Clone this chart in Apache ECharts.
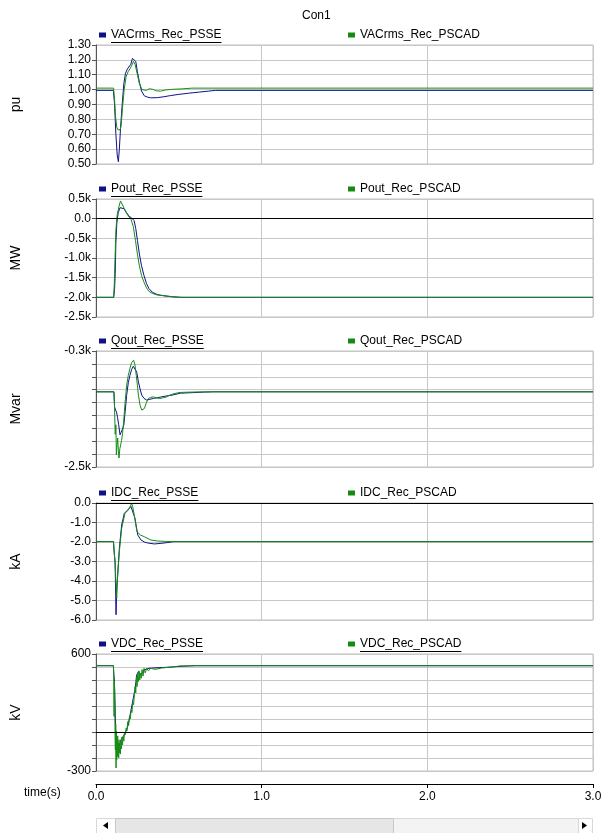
<!DOCTYPE html>
<html>
<head>
<meta charset="utf-8">
<title>Con1</title>
<script src="https://cdn.jsdelivr.net/npm/echarts@6/dist/echarts.min.js"></script>
<style>
  html, body { margin: 0; padding: 0; background: #fff; }
  #chart { width: 601px; height: 833px; }
</style>
</head>
<body>
<div id="chart"></div>
<script>
// time (s) and value pairs, one pair of arrays per trace
const vacPsseT = [0, 0.105, 0.112, 0.120, 0.128, 0.135, 0.141, 0.148, 0.158, 0.168, 0.178, 0.190, 0.200, 0.210, 0.220, 0.231, 0.240, 0.250, 0.262, 0.275, 0.292, 0.310, 0.330, 0.370, 0.410, 0.450, 0.500, 0.560, 0.620, 0.680, 0.720, 3.0]
const vacPsse = [0.995, 0.995, 0.90, 0.70, 0.56, 0.515, 0.60, 0.74, 0.90, 1.04, 1.11, 1.14, 1.15, 1.17, 1.21, 1.223, 1.19, 1.12, 1.05, 0.99, 0.958, 0.95, 0.945, 0.946, 0.952, 0.96, 0.968, 0.976, 0.983, 0.99, 0.995, 0.995]
const vacPscadT = [0, 0.106, 0.112, 0.118, 0.125, 0.132, 0.139, 0.146, 0.152, 0.160, 0.170, 0.182, 0.194, 0.205, 0.215, 0.226, 0.236, 0.248, 0.262, 0.278, 0.290, 0.305, 0.320, 0.340, 0.365, 0.390, 0.420, 0.460, 0.520, 0.580, 0.700, 3.0]
const vacPscad = [1.01, 1.01, 0.93, 0.82, 0.75, 0.73, 0.72, 0.73, 0.76, 0.88, 1.00, 1.09, 1.12, 1.14, 1.16, 1.19, 1.17, 1.11, 1.04, 1.00, 0.99, 0.995, 1.005, 1.003, 0.992, 0.99, 0.998, 1.002, 1.005, 1.01, 1.01, 1.01]

const poutPsseT = [0, 0.107, 0.112, 0.116, 0.120, 0.126, 0.134, 0.145, 0.155, 0.170, 0.185, 0.200, 0.215, 0.230, 0.240, 0.250, 0.262, 0.275, 0.290, 0.305, 0.320, 0.340, 0.370, 0.410, 0.460, 0.520, 3.0]
const poutPsse = [-2000, -2000, -1800, -1400, -600, -100, 150, 280, 320, 250, 150, 60, 20, -50, -250, -550, -900, -1200, -1450, -1650, -1780, -1870, -1930, -1960, -1985, -2000, -2000]
const poutPscadT = [0, 0.106, 0.110, 0.115, 0.120, 0.128, 0.138, 0.148, 0.158, 0.170, 0.185, 0.200, 0.212, 0.225, 0.238, 0.250, 0.262, 0.275, 0.290, 0.305, 0.320, 0.340, 0.370, 0.410, 0.460, 0.500, 3.0]
const poutPscad = [-2000, -2000, -1700, -1000, -300, 100, 300, 450, 400, 260, 130, 40, -20, -200, -550, -900, -1200, -1450, -1620, -1760, -1850, -1900, -1940, -1960, -1985, -2000, -2000]

const qoutPsseT = [0, 0.108, 0.112, 0.118, 0.124, 0.130, 0.137, 0.145, 0.152, 0.160, 0.168, 0.176, 0.185, 0.195, 0.205, 0.215, 0.225, 0.236, 0.246, 0.256, 0.266, 0.276, 0.290, 0.306, 0.326, 0.346, 0.370, 0.396, 0.430, 0.460, 0.510, 0.580, 0.650, 0.710, 3.0]
const qoutPsse = [-1074, -1074, -1360, -1420, -1460, -1560, -1700, -1890, -1840, -1780, -1700, -1450, -1140, -900, -760, -650, -590, -570, -700, -885, -1020, -1136, -1200, -1230, -1215, -1200, -1185, -1170, -1150, -1136, -1100, -1090, -1080, -1074, -1074]
const qoutPscadT = [0, 0.108, 0.111, 0.116, 0.120, 0.123, 0.127, 0.131, 0.135, 0.139, 0.144, 0.149, 0.154, 0.160, 0.167, 0.175, 0.185, 0.195, 0.205, 0.215, 0.227, 0.235, 0.243, 0.250, 0.256, 0.266, 0.276, 0.292, 0.304, 0.316, 0.330, 0.346, 0.366, 0.386, 0.407, 0.427, 0.450, 0.477, 0.507, 0.560, 0.620, 0.700, 3.0]
const qoutPscad = [-1074, -1074, -1260, -1880, -1700, -2270, -2080, -1950, -2200, -2330, -2150, -2080, -2000, -1870, -1640, -1300, -950, -760, -630, -520, -475, -560, -760, -950, -1136, -1330, -1420, -1390, -1280, -1200, -1180, -1170, -1190, -1200, -1185, -1170, -1130, -1105, -1086, -1080, -1076, -1074, -1074]

const idcPsseT = [0, 0.105, 0.110, 0.115, 0.118, 0.121, 0.125, 0.131, 0.141, 0.155, 0.171, 0.191, 0.211, 0.221, 0.235, 0.252, 0.272, 0.292, 0.312, 0.352, 0.392, 0.430, 0.470, 3.0]
const idcPsse = [-1.98, -1.98, -2.6, -3.0, -4.3, -5.73, -4.36, -3.68, -2.32, -1.12, -0.53, -0.36, -0.18, -0.1, -0.78, -1.64, -1.9, -2.0, -2.05, -2.1, -2.07, -2.03, -1.98, -1.98]
const idcPscadT = [0, 0.106, 0.110, 0.115, 0.120, 0.125, 0.131, 0.141, 0.155, 0.175, 0.195, 0.208, 0.215, 0.222, 0.231, 0.247, 0.268, 0.292, 0.332, 0.372, 0.420, 0.470, 3.0]
const idcPscad = [-1.98, -1.98, -2.5, -3.0, -4.0, -4.87, -3.68, -2.5, -1.3, -0.53, -0.36, -0.15, -0.02, -0.2, -0.62, -1.47, -1.64, -1.73, -1.9, -1.95, -1.97, -1.98, -1.98]

const vdcPsseT = [0, 0.105, 0.108, 0.111, 0.115, 0.120, 0.125, 0.131, 0.138, 0.145, 0.155, 0.165, 0.175, 0.185, 0.195, 0.211, 0.225, 0.236, 0.246, 0.256, 0.266, 0.272, 0.280, 0.290, 0.300, 0.320, 0.350, 0.400, 0.457, 0.507, 0.600, 3.0]
const vdcPsse = [510, 510, 440, 400, 200, -60, -120, -160, -110, -85, -50, -34, -20, 17, 60, 165, 260, 330, 440, 465, 440, 426, 455, 478, 485, 490, 493, 496, 500, 505, 510, 510]
const vdcPscadT = [0, 0.105, 0.107, 0.109, 0.111, 0.113, 0.115, 0.117, 0.119, 0.121, 0.123, 0.125, 0.127, 0.129, 0.131, 0.133, 0.135, 0.137, 0.139, 0.141, 0.144, 0.147, 0.150, 0.153, 0.156, 0.160, 0.164, 0.168, 0.172, 0.177, 0.182, 0.187, 0.192, 0.197, 0.202, 0.207, 0.212, 0.217, 0.222, 0.227, 0.232, 0.236, 0.240, 0.244, 0.248, 0.252, 0.256, 0.260, 0.264, 0.268, 0.273, 0.278, 0.284, 0.290, 0.297, 0.306, 0.316, 0.330, 0.356, 0.396, 0.457, 0.507, 0.600, 3.0]
const vdcPscad = [510, 510, 430, 120, 390, 300, -40, -137, 60, -277, 6, -213, -60, -188, -30, -160, -85, -200, -60, -160, -111, -170, -60, -130, -40, -100, -34, -70, 0, -20, 30, 10, 80, 50, 120, 100, 170, 150, 230, 210, 290, 349, 300, 426, 349, 452, 388, 470, 400, 452, 413, 480, 430, 490, 455, 490, 470, 490, 482, 492, 500, 508, 510, 510]

// y ticks of the Qout panel (9 equal steps) and the two labelled ends
const qoutTicks = [-2500, -2255.6, -2011.1, -1766.7, -1522.2, -1277.8, -1033.3, -788.9, -544.4, -300]
const qoutLabels = [-2500, -300]
const timeTicks = [0, 1, 2, 3]

const FONT = '"Liberation Sans", Arial, sans-serif'
const BLUE = '#10108c'
const GREEN = '#148c14'
const GRID_COLOR = '#c8c8c8'
const LEFT = 96
const WIDTH = 497

const zip = (t, v) => t.map((x, i) => [x, v[i]])
const kFmt = (v) => (v === 0 ? '0.0' : (v / 1000).toFixed(1) + 'k')

const panels = [
    { unit: 'pu', top: 45, height: 119, names: ['VACrms_Rec_PSSE', 'VACrms_Rec_PSCAD'],
      data: [zip(vacPsseT, vacPsse), zip(vacPscadT, vacPscad)],
      y: { min: 0.5, max: 1.3, interval: 0.1 }, fmt: (v) => v.toFixed(2), zero: false, underline: [true, false] },
    { unit: 'MW', top: 199, height: 118, names: ['Pout_Rec_PSSE', 'Pout_Rec_PSCAD'],
      data: [zip(poutPsseT, poutPsse), zip(poutPscadT, poutPscad)],
      y: { min: -2500, max: 500, interval: 500 }, fmt: kFmt, zero: true, underline: [true, false] },
    { unit: 'Mvar', top: 351, height: 116, names: ['Qout_Rec_PSSE', 'Qout_Rec_PSCAD'],
      data: [zip(qoutPsseT, qoutPsse), zip(qoutPscadT, qoutPscad)],
      y: { min: -2500, max: -300 }, custom: true, fmt: kFmt, zero: false, underline: [true, false] },
    { unit: 'kA', top: 503, height: 117, names: ['IDC_Rec_PSSE', 'IDC_Rec_PSCAD'],
      data: [zip(idcPsseT, idcPsse), zip(idcPscadT, idcPscad)],
      y: { min: -6, max: 0, interval: 1 }, fmt: (v) => v.toFixed(1), zero: true, underline: [true, false] },
    { unit: 'kV', top: 654, height: 117, names: ['VDC_Rec_PSSE', 'VDC_Rec_PSCAD'],
      data: [zip(vdcPsseT, vdcPsse), zip(vdcPscadT, vdcPscad)],
      y: { min: -300, max: 600, interval: 100 }, fmt: (v) => (v === 600 || v === -300 ? String(v) : ''),
      zero: true, underline: [true, true] },
]

const measure = document.createElement('canvas').getContext('2d')
measure.font = '12px ' + FONT

const grids = []
const xAxes = []
const yAxes = []
const series = []
const legends = []
const graphics = []
const last = panels.length - 1

panels.forEach((p, i) => {
    const isLast = i === last
    grids.push({
        left: LEFT, top: p.top, width: WIDTH, height: p.height,
        outerBoundsMode: 'none', containLabel: false,
        show: true, borderColor: '#c0c0c0', borderWidth: 1, backgroundColor: '#fff',
    })
    xAxes.push({
        gridIndex: i, type: 'value', min: 0, max: 3, interval: 1,
        offset: isLast ? 13 : 0,
        axisLine: { show: isLast, onZero: false, lineStyle: { color: '#000', width: 1 } },
        axisTick: { show: isLast, length: 4, lineStyle: { color: '#000' } },
        axisLabel: { show: isLast, color: '#000', fontSize: 12, fontFamily: FONT, margin: 7,
            formatter: (v) => v.toFixed(1), customValues: isLast ? timeTicks : undefined },
        splitLine: { show: true, lineStyle: { color: GRID_COLOR } },
    })
    const y = {
        gridIndex: i, type: 'value', min: p.y.min, max: p.y.max,
        name: p.unit, nameLocation: 'middle', nameGap: 73,
        nameTextStyle: { fontSize: 14, color: '#000', fontFamily: FONT },
        axisLine: { show: true, lineStyle: { color: '#555' } },
        axisTick: { show: true, length: 4, lineStyle: { color: '#555' } },
        axisLabel: { color: '#000', fontSize: 12, fontFamily: FONT, margin: 5, formatter: p.fmt },
        splitLine: { show: true, lineStyle: { color: GRID_COLOR } },
    }
    if (p.custom) {
        y.axisTick.customValues = qoutTicks
        y.axisLabel.customValues = qoutLabels
    } else {
        y.interval = p.y.interval
    }
    yAxes.push(y)

    p.names.forEach((name, k) => {
        const s = {
            name, type: 'line', xAxisIndex: i, yAxisIndex: i,
            data: p.data[k], symbol: 'none', showSymbol: false,
            lineStyle: { width: 1, color: k === 0 ? BLUE : GREEN },
            itemStyle: { color: k === 0 ? BLUE : GREEN },
            animation: false, silent: true,
        }
        if (k === 0 && p.zero) {
            s.markLine = {
                silent: true, symbol: 'none', label: { show: false },
                lineStyle: { color: '#000', width: 1, type: 'solid' },
                data: [{ yAxis: 0 }],
            }
        }
        series.push(s)

        const iconLeft = k === 0 ? 99 : 348
        const center = p.top - 10
        legends.push({
            data: [name], left: iconLeft, top: center - 6, padding: 0,
            icon: 'rect', itemWidth: 7, itemHeight: 5, selectedMode: false,
            textStyle: { color: '#000', fontSize: 12, fontFamily: FONT },
        })
        if (p.underline[k]) {
            const x0 = iconLeft + 12
            const yy = Math.round(center + 7) + 0.5
            graphics.push({
                type: 'line', silent: true,
                shape: { x1: x0, y1: yy, x2: x0 + measure.measureText(name).width, y2: yy },
                style: { stroke: '#000', lineWidth: 1 },
            })
        }
    })
})

// time label and the scrollbar strip under the time axis
graphics.push(
    { type: 'text', left: 24, top: 787, style: { text: 'time(s)', fill: '#000', font: '12px ' + FONT } },
    { type: 'rect', shape: { x: 96.5, y: 818.5, width: 496, height: 16 }, style: { fill: '#fff', stroke: '#d8d8d8' } },
    { type: 'rect', shape: { x: 115.5, y: 818.5, width: 463, height: 16 }, style: { fill: '#f3f3f3', stroke: '#d8d8d8' } },
    { type: 'rect', shape: { x: 115.5, y: 818.5, width: 278, height: 16 }, style: { fill: '#e6e6e6', stroke: '#c8c8c8' } },
    { type: 'polygon', shape: { points: [[103, 825.5], [108, 822], [108, 829]] }, style: { fill: '#000' } },
    { type: 'polygon', shape: { points: [[587, 825.5], [582, 822], [582, 829]] }, style: { fill: '#000' } },
)

const chart = echarts.init(document.getElementById('chart'), null, { renderer: 'canvas' })
chart.setOption({
    animation: false,
    backgroundColor: '#fff',
    title: { text: 'Con1', left: 297, top: 5, textStyle: { fontSize: 12, fontWeight: 'normal', color: '#000', fontFamily: FONT } },
    legend: legends,
    grid: grids,
    xAxis: xAxes,
    yAxis: yAxes,
    series,
    graphic: graphics,
})
</script>
</body>
</html>
